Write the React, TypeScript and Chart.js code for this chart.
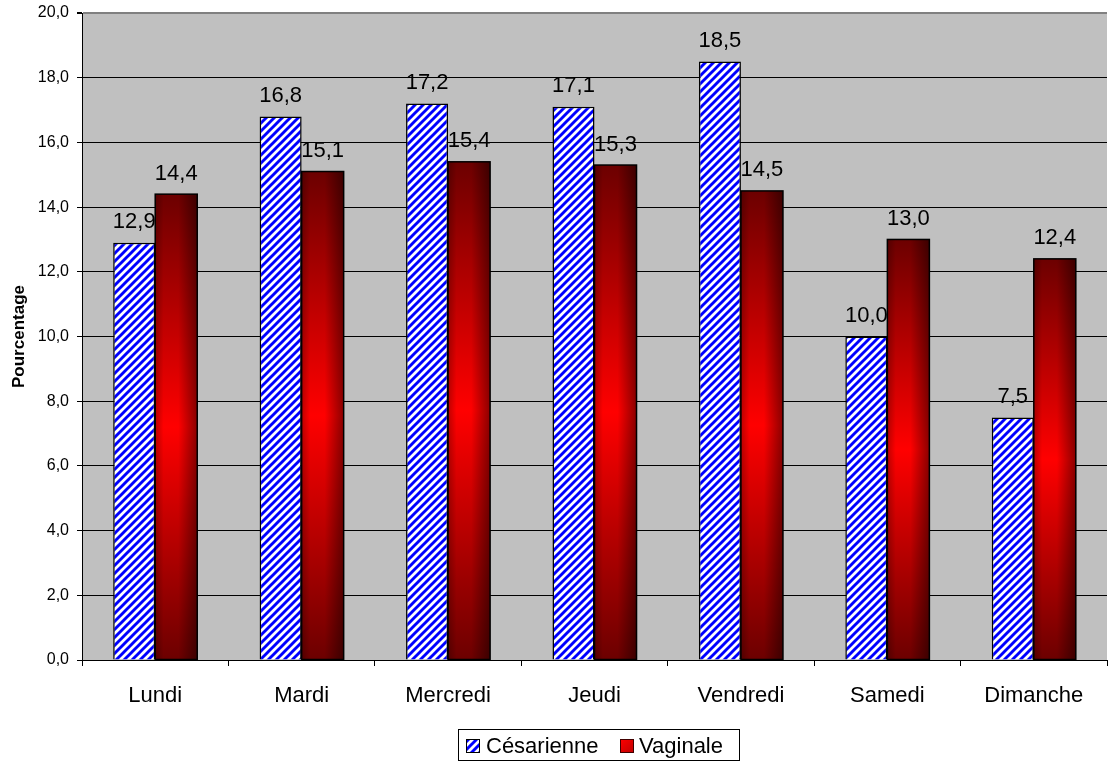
import React, { useEffect, useRef } from "react";
import { Chart, registerables } from "chart.js";

Chart.register(...registerables);

const categories = ["Lundi", "Mardi", "Mercredi", "Jeudi", "Vendredi", "Samedi", "Dimanche"];
const cesarienne = [12.9, 16.8, 17.2, 17.1, 18.5, 10.0, 7.5];
const vaginale = [14.4, 15.1, 15.4, 15.3, 14.5, 13.0, 12.4];
const seriesNames = ["Césarienne", "Vaginale"];
const yTitle = "Pourcentage";

const FONT = "'Liberation Sans', Arial, sans-serif";
const fmt = (v: number) => v.toFixed(1).replace(".", ",");

function makeStripePattern(ctx: CanvasRenderingContext2D): CanvasPattern | string {
  const c = document.createElement("canvas");
  c.width = 8;
  c.height = 8;
  const p = c.getContext("2d");
  if (!p) return "#0000ff";
  p.fillStyle = "#ffffff";
  p.fillRect(0, 0, 8, 8);
  p.strokeStyle = "#0000ff";
  p.lineWidth = 2.9;
  p.beginPath();
  p.moveTo(-1, 9);
  p.lineTo(9, -1);
  p.moveTo(-2, 2);
  p.lineTo(2, -2);
  p.moveTo(6, 10);
  p.lineTo(10, 6);
  p.stroke();
  return ctx.createPattern(c, "repeat") || "#0000ff";
}

export default function App() {
  const ref = useRef<HTMLCanvasElement | null>(null);

  useEffect(() => {
    const canvas = ref.current;
    if (!canvas) return;
    const ctx0 = canvas.getContext("2d");
    if (!ctx0) return;
    const stripes = makeStripePattern(ctx0);

    const bgPlugin = {
      id: "plotBg",
      beforeDraw(chart: any) {
        const { ctx, chartArea: a } = chart;
        ctx.save();
        ctx.fillStyle = "#ffffff";
        ctx.fillRect(0, 0, chart.width, chart.height);
        ctx.fillStyle = "#c0c0c0";
        ctx.fillRect(a.left, a.top, a.right - a.left, a.bottom - a.top);
        ctx.restore();
      },
    };

    const redPlugin = {
      id: "redGrad",
      afterDatasetDraw(chart: any, args: any) {
        if (args.index !== 1) return;
        const { ctx } = chart;
        const meta = chart.getDatasetMeta(1);
        meta.data.forEach((el: any) => {
          const { x, y, base, width } = el.getProps(["x", "y", "base", "width"], true);
          const left = x - width / 2;
          const top = Math.min(y, base);
          const h = Math.abs(base - y);
          ctx.save();
          const g = ctx.createLinearGradient(0, top, 0, top + h);
          g.addColorStop(0, "#6c0000");
          g.addColorStop(0.5, "#ff0000");
          g.addColorStop(1, "#6c0000");
          ctx.fillStyle = g;
          ctx.fillRect(left, top, width, h);
          const hg = ctx.createLinearGradient(left, 0, left + width, 0);
          hg.addColorStop(0, "rgba(0,0,0,0.25)");
          hg.addColorStop(0.2, "rgba(0,0,0,0)");
          hg.addColorStop(0.55, "rgba(0,0,0,0)");
          hg.addColorStop(1, "rgba(0,0,0,0.45)");
          ctx.fillStyle = hg;
          ctx.fillRect(left, top, width, h);
          ctx.strokeStyle = "#000000";
          ctx.lineWidth = 1.5;
          ctx.strokeRect(left, top, width, h);
          ctx.restore();
        });
      },
    };

    const labelPlugin = {
      id: "valLabels",
      afterDatasetsDraw(chart: any) {
        const { ctx } = chart;
        ctx.save();
        ctx.font = `22px ${FONT}`;
        ctx.fillStyle = "#000000";
        ctx.textAlign = "center";
        ctx.textBaseline = "alphabetic";
        [cesarienne, vaginale].forEach((vals, di) => {
          const meta = chart.getDatasetMeta(di);
          meta.data.forEach((el: any, i: number) => {
            const { x, y } = el.getProps(["x", "y"], true);
            ctx.fillText(fmt(vals[i]), x, y - 14.5);
          });
        });
        ctx.restore();
      },
    };

    const decoPlugin = {
      id: "deco",
      afterDraw(chart: any) {
        const { ctx, chartArea: a } = chart;
        ctx.save();
        ctx.translate(19, (a.top + a.bottom) / 2);
        ctx.rotate(-Math.PI / 2);
        ctx.font = `bold 17px ${FONT}`;
        ctx.fillStyle = "#000000";
        ctx.textAlign = "center";
        ctx.textBaseline = "middle";
        ctx.fillText(yTitle, 0, 0);
        ctx.restore();

        ctx.save();
        ctx.strokeStyle = "#000000";
        ctx.lineWidth = 1;
        ctx.strokeRect(458.5, 729.5, 281, 31);
        ctx.font = `22px ${FONT}`;
        ctx.textBaseline = "middle";
        ctx.textAlign = "left";
        ctx.fillStyle = stripes as any;
        ctx.fillRect(466, 739, 14, 14);
        ctx.strokeRect(466.5, 739.5, 13, 13);
        ctx.fillStyle = "#000000";
        ctx.fillText(seriesNames[0], 486, 747);
        const g = ctx.createLinearGradient(620, 739, 634, 753);
        g.addColorStop(0, "#ff0000");
        g.addColorStop(1, "#c00000");
        ctx.fillStyle = g;
        ctx.fillRect(620, 739, 14, 14);
        ctx.strokeStyle = "#400000";
        ctx.strokeRect(620.5, 739.5, 13, 13);
        ctx.fillStyle = "#000000";
        ctx.fillText(seriesNames[1], 639, 747);
        ctx.restore();
      },
    };

    const chart = new Chart(canvas, {
      type: "bar",
      data: {
        labels: categories,
        datasets: [
          {
            label: seriesNames[0],
            data: cesarienne,
            backgroundColor: stripes as any,
            borderColor: "#000000",
            borderWidth: 1.5,
            categoryPercentage: 0.574,
            barPercentage: 1.0,
          },
          {
            label: seriesNames[1],
            data: vaginale,
            backgroundColor: "rgba(0,0,0,0)",
            borderWidth: 0,
            categoryPercentage: 0.574,
            barPercentage: 1.0,
          },
        ],
      },
      options: {
        responsive: false,
        animation: false,
        devicePixelRatio: 1,
        layout: { padding: { top: 13, right: 1, left: 0, bottom: 0 } },
        plugins: {
          legend: { display: false },
          tooltip: { enabled: false },
          title: { display: false },
        },
        scales: {
          x: {
            offset: true,
            grid: {
              display: true,
              drawOnChartArea: false,
              drawTicks: true,
              tickLength: 6,
              tickColor: "#000000",
              offset: true,
            },
            border: { color: "#000000", width: 1 },
            ticks: {
              color: "#000000",
              font: { family: FONT, size: 22 },
              padding: 17,
              maxRotation: 0,
            },
            afterFit(scale: any) {
              scale.height = 101;
              scale.paddingLeft = 0;
              scale.paddingRight = 0;
            },
          },
          y: {
            min: 0,
            max: 20,
            ticks: {
              stepSize: 2,
              color: "#000000",
              font: { family: FONT, size: 16 },
              padding: 8,
              callback: (v: any) => fmt(Number(v)),
            },
            grid: {
              color: (c: any) => (c.tick && c.tick.value === 20 ? "#808080" : "#000000"),
              lineWidth: (c: any) => (c.tick && c.tick.value === 20 ? 2 : 1),
              tickLength: 5,
              tickColor: "#000000",
              drawTicks: true,
            },
            border: { color: "#000000", width: 1 },
            afterFit(scale: any) {
              scale.width = 82;
              scale.paddingTop = 0;
              scale.paddingBottom = 0;
            },
          },
        },
      },
      plugins: [bgPlugin, redPlugin, labelPlugin, decoPlugin],
    });

    return () => chart.destroy();
  }, []);

  return (
    <div style={{ position: "absolute", left: 0, top: 0, width: 1108, height: 761, background: "#fff" }}>
      <canvas ref={ref} width={1108} height={761} style={{ display: "block", width: 1108, height: 761 }} />
    </div>
  );
}
